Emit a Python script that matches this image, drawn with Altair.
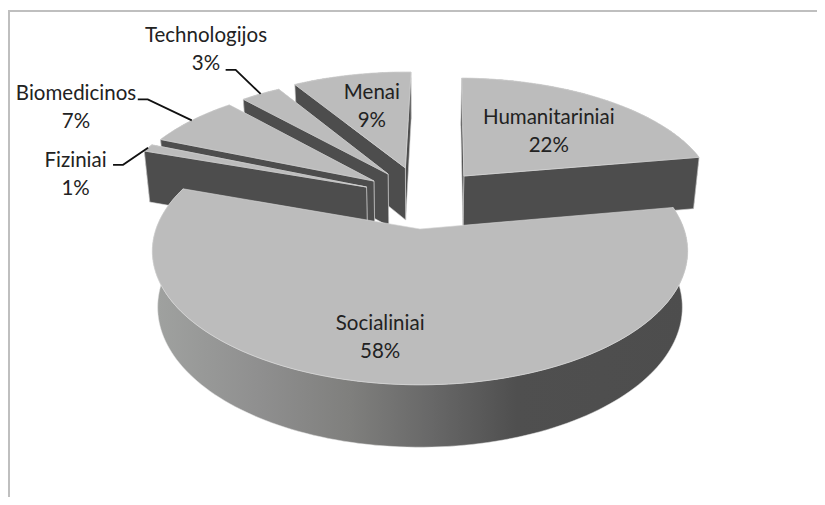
import math
import altair as alt

LABELS = ["Humanitariniai", "Socialiniai", "Fiziniai", "Biomedicinos", "Technologijos", "Menai"]
VALUES = [22, 58, 1, 7, 3, 9]
# explosion of each slice on the pie's plane (radius = 1)
EXPLODE_U = [0.178, 0.0, -0.214, -0.186, -0.130, -0.060]
EXPLODE_V = [-0.437, 0.0, -0.341, -0.393, -0.4545, -0.509]
# label anchor: radial factor and angular turn from the slice's middle
LABEL_R = [0.577, 0.742, 1.196, 1.535, 1.633, 0.642]
LABEL_TURN = [0.6, 5.7, -15.1, -7.3, 2.4, 1.1]
# leader knee relative to the rim (pixels), None = label inside the slice
LEADER_KNEE = [None, None, (-25, 17), (-44, -21), (-25, -24), None]
LEADER_STUB = 10

W, H = 809, 489
X0, Y0 = 8, 8
CX, CY, RX, RY, K = 420.0, 229.0, 264.0, 130.0, 0.1655
ROT = 1.0
DEPTH, DEPTH_P, CONV = 55.0, 0.7, 0.98
TOP, DARK, EDGE = "#bcbcbc", "#4d4d4d", "#d6d6d6"
GEO = dict(type="identity", scale=1, translate=[-X0, -Y0])


def proj(u, v):
    w = 1 - K * v
    return CX + RX * u / w, CY + RY * v / w


def lower(u, v):
    w = 1 - K * v
    x, y = proj(u, v)
    return CX + (x - CX) * CONV, y + DEPTH / w ** DEPTH_P


def rim(i, deg, r=1.0):
    a = math.radians(deg)
    return EXPLODE_U[i] + r * math.sin(a), EXPLODE_V[i] - r * math.cos(a)


def poly(points, fill="none"):
    ring = [list(p) for p in points]
    ring.append(ring[0])
    return {"type": "Feature", "properties": {"fill": fill},
            "geometry": {"type": "Polygon", "coordinates": [ring]}}


def arc_angles(a, b):
    n = max(2, int((b - a) / 1.5))
    return [a + (b - a) * j / n for j in range(n + 1)]


spans, acc = [], ROT
for val in VALUES:
    spans.append((acc, acc + val * 3.6))
    acc += val * 3.6


def top_face(i):
    a, b = spans[i]
    return [proj(EXPLODE_U[i], EXPLODE_V[i])] + [proj(*rim(i, t)) for t in arc_angles(a, b)]


def outer_wall(i):
    a, b = spans[i]
    ang = arc_angles(a, b)
    return [proj(*rim(i, t)) for t in ang] + [lower(*rim(i, t)) for t in reversed(ang)]


def cut_face(i, deg):
    c = (EXPLODE_U[i], EXPLODE_V[i])
    e = rim(i, deg)
    return [proj(*c), proj(*e), lower(*e), lower(*c)]


back = []
for i in [5, 4, 3, 2, 0]:
    a, b = spans[i]
    back.append(poly(outer_wall(i), DARK))
    back.append(poly(cut_face(i, b), DARK))
    back.append(poly(cut_face(i, a), DARK))
    back.append(poly(top_face(i), TOP))

S = 1
wall_gradient = {
    "gradient": "linear", "x1": 0, "x2": 1, "y1": 0, "y2": 0,
    "stops": [
        {"offset": 0.0, "color": "#a0a2a0"},
        {"offset": 0.2, "color": "#8f8f8f"},
        {"offset": 0.37, "color": "#7f7f7d"},
        {"offset": 0.52, "color": "#686868"},
        {"offset": 0.68, "color": "#4f4f4f"},
        {"offset": 1.0, "color": "#4d4d4d"},
    ],
}


def line_feature(points):
    return {"type": "Feature", "properties": {},
            "geometry": {"type": "LineString", "coordinates": [list(p) for p in points]}}


frame = alt.Chart(alt.Data(values=[line_feature([(9, 497), (9, 11), (817, 11)])])).mark_geoshape(
    filled=False, stroke="#bfbfbf", strokeWidth=2).project(**GEO)

back_layer = alt.Chart(alt.Data(values=back)).mark_geoshape(
    stroke=EDGE, strokeWidth=0.6).encode(fill=alt.Fill("properties.fill:N", scale=None)).project(**GEO)
soc_wall = alt.Chart(alt.Data(values=[poly(outer_wall(S))])).mark_geoshape(
    fill=wall_gradient, stroke="#e4e4e4", strokeWidth=0.5).project(**GEO)
soc_top = alt.Chart(alt.Data(values=[poly(top_face(S))])).mark_geoshape(
    fill=TOP, stroke=EDGE, strokeWidth=0.6).project(**GEO)

leaders, rows = [], []
for i, name in enumerate(LABELS):
    a, b = spans[i]
    mid = (a + b) / 2
    lx, ly = proj(*rim(i, mid + LABEL_TURN[i], LABEL_R[i]))
    rows.append({"x": lx, "y": ly, "text": f"{name}\n{VALUES[i]}%"})
    if LEADER_KNEE[i]:
        sx, sy = proj(*rim(i, mid))
        kx, ky = sx + LEADER_KNEE[i][0], sy + LEADER_KNEE[i][1]
        leaders.append(line_feature([(sx, sy), (kx, ky), (kx - LEADER_STUB, ky)]))

leader_layer = alt.Chart(alt.Data(values=leaders)).mark_geoshape(
    filled=False, stroke="#111111", strokeWidth=1.8).project(**GEO)

text_layer = alt.Chart(alt.Data(values=rows)).mark_text(
    font="Lato", fontSize=20.5, color="#222222", lineBreak="\n", lineHeight=28, align="center", baseline="middle", dy=-12.5
).encode(
    x=alt.X("x:Q", scale=alt.Scale(domain=[X0, X0 + W]), axis=None),
    y=alt.Y("y:Q", scale=alt.Scale(domain=[Y0 + H, Y0]), axis=None),
    text="text:N",
)

chart = alt.layer(frame, back_layer, soc_wall, soc_top, leader_layer, text_layer).properties(
    width=W, height=H, padding=0, background="white"
).configure_view(stroke=None)

chart.save("out.html", embed_options={"renderer": "svg", "actions": False})
